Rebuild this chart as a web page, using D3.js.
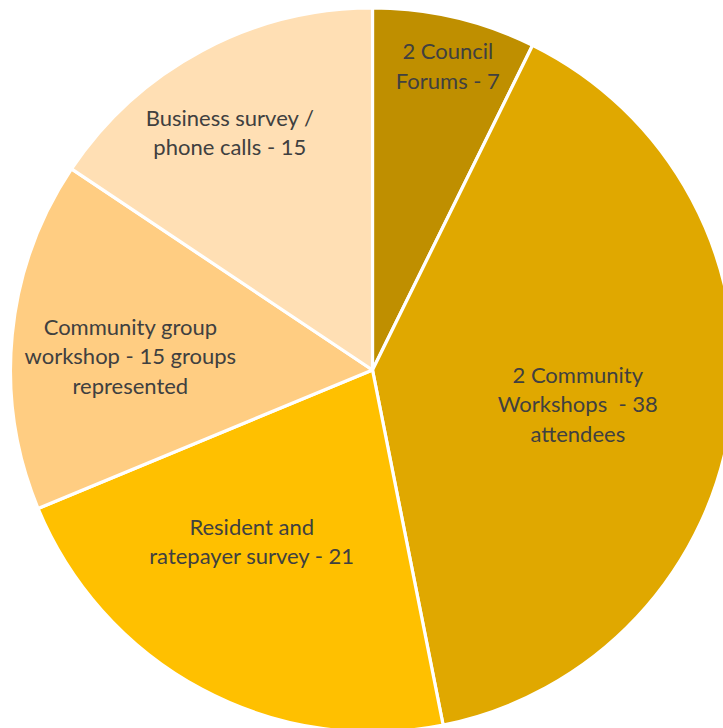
<!DOCTYPE html>
<html><head><meta charset="utf-8">
<script src="https://cdn.jsdelivr.net/npm/d3@7"></script>
<style>html,body{margin:0;padding:0;background:#fff;overflow:hidden}</style>
</head><body><svg id="c" width="723" height="728"></svg>
<script>
const categories = [
  ["2 Council", "Forums - 7"],
  ["2 Community", "Workshops  - 38", "attendees"],
  ["Resident and", "ratepayer survey - 21"],
  ["Community group", "workshop - 15 groups", "represented"],
  ["Business survey /", "phone calls - 15"]
];
const values = [7, 38, 21, 15, 15];
const colors = ["#BF8F00", "#E0A800", "#FFC000", "#FFCD82", "#FFDFB4"];

// layout (not data): label distance from centre, as fraction of radius, and angle nudge
const labelRad = [0.865, 0.575, 0.58, 0.67, 0.765];
const labelNudge = [0.8, 2.0, 7.0, -2.5, -2.9]; // degrees

const svg = d3.select("#c");
const cx = 372.5, cy = 370, R = 362;
const g = svg.append("g").attr("transform", `translate(${cx},${cy})`);
const pie = d3.pie().sort(null).value(d => d);
const arcs = pie(values);
const arc = d3.arc().innerRadius(0).outerRadius(R);

g.selectAll("path").data(arcs).join("path")
  .attr("d", arc)
  .attr("fill", (d, i) => colors[i])
  .attr("stroke", "#fff")
  .attr("stroke-width", 3.2)
  .attr("stroke-linejoin", "round");

const lineH = 29.5;
arcs.forEach((d, i) => {
  const a = (d.startAngle + d.endAngle) / 2 + labelNudge[i] * Math.PI / 180;
  const r = R * labelRad[i];
  const x = Math.sin(a) * r, y = -Math.cos(a) * r;
  const lines = categories[i];
  const t = g.append("text")
    .attr("text-anchor", "middle")
    .attr("font-family", "Lato, 'Open Sans', sans-serif")
    .attr("font-size", 22)
    .attr("fill", "#404040")
    .style("white-space", "pre");
  lines.forEach((s, k) => {
    t.append("tspan").attr("x", x)
      .attr("y", y + (k - (lines.length - 1) / 2) * lineH)
      .attr("dy", "0.35em")
      .text(s);
  });
});
</script></body></html>
